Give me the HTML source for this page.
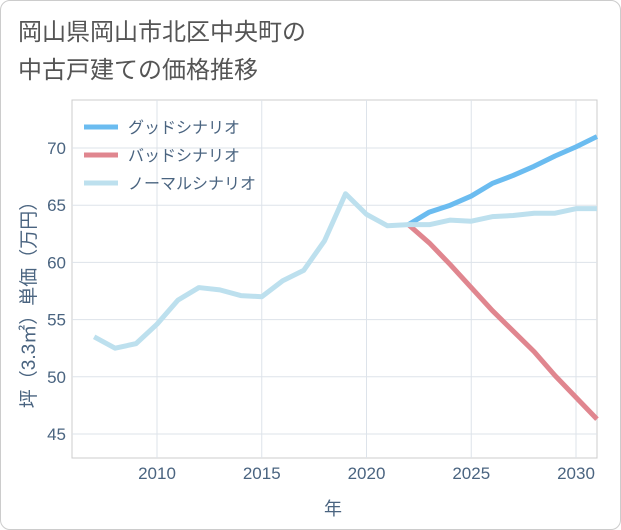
<!DOCTYPE html>
<html><head><meta charset="utf-8"><style>
body{margin:0;background:#fff;}
#wrap{position:relative;width:619px;height:528px;border:1px solid #ccc;border-radius:10px;background:#fff;overflow:hidden;font-family:"Liberation Sans","Noto Sans CJK JP",sans-serif;}
#title{position:absolute;left:17px;top:13px;font-size:24px;line-height:38px;color:#555;}
</style></head><body>
<div id="wrap">
<div id="title">岡山県岡山市北区中央町の<br>中古戸建ての価格推移</div>
<svg id="chart" width="621" height="530" style="position:absolute;left:-1px;top:-1px"></svg>
</div>
<script>
const years=[2007,2008,2009,2010,2011,2012,2013,2014,2015,2016,2017,2018,2019,2020,2021,2022,2023,2024,2025,2026,2027,2028,2029,2030,2031];
const normal=[53.5,52.5,52.9,54.6,56.7,57.8,57.6,57.1,57.0,58.4,59.3,61.9,66.0,64.2,63.2,63.3,63.3,63.7,63.6,64.0,64.1,64.3,64.3,64.7,64.7];
const goodYears=[2022,2023,2024,2025,2026,2027,2028,2029,2030,2031];
const good=[63.3,64.4,65.0,65.8,66.9,67.6,68.4,69.3,70.1,71.0];
const bad=[63.3,61.7,59.8,57.8,55.8,54.0,52.2,50.1,48.2,46.3];
const xTicks=[2010,2015,2020,2025,2030];
const yTicks=[45,50,55,60,65,70];
const legendLabels=["グッドシナリオ","バッドシナリオ","ノーマルシナリオ"];
const colors=["#6bbcf0","#e0868f","#bde0ee"];
const NS="http://www.w3.org/2000/svg";
const svg=document.getElementById('chart');
const L=72,R=597,T=100,B=458;
const x=v=>157+(v-2010)*(576-157)/20;
const y=v=>148+(70-v)*(434-148)/25;
function mk(t,a,p){const e=document.createElementNS(NS,t);for(const k in a)e.setAttribute(k,a[k]);(p||svg).appendChild(e);return e;}
const frame=mk('rect',{x:L,y:T,width:R-L,height:B-T,fill:'none',stroke:'#ccc'});


xTicks.forEach(t=>{const g=mk('line',{x1:x(t),x2:x(t),y1:T,y2:B,stroke:'#dde3ea'});


const tx=mk('text',{x:x(t),y:B+21,'text-anchor':'middle','font-size':17,fill:'#4a6480'});tx.textContent=t;

});
yTicks.forEach(t=>{const g=mk('line',{x1:L,x2:R,y1:y(t),y2:y(t),stroke:'#dde3ea'});


const tx=mk('text',{x:L-6,y:y(t)+6,'text-anchor':'end','font-size':17,fill:'#4a6480'});tx.textContent=t;

});
function line(xs,vs,c,name){const d=xs.map((v,i)=>(i?'L':'M')+x(v)+','+y(vs[i])).join('');
const p=mk('path',{d:d,fill:'none',stroke:c,'stroke-width':5,'stroke-linejoin':'round'});

}
line(goodYears,bad,colors[1],'bad-scenario-line');
line(goodYears,good,colors[0],'good-scenario-line');
line(years,normal,colors[2],'normal-scenario-line');
legendLabels.forEach((l,i)=>{const yy=127+i*28;
const ln=mk('line',{x1:84,x2:118,y1:yy,y2:yy,stroke:colors[i],'stroke-width':5});


const tx=mk('text',{x:128,y:yy+6,'font-size':16,fill:'#4a6480'});tx.textContent=l;

});
const xt=mk('text',{x:333,y:515,'text-anchor':'middle','font-size':18,fill:'#4a6480'});xt.textContent='年';


const yt=mk('text',{x:0,y:0,'text-anchor':'middle','font-size':19,fill:'#4a6480',transform:'translate(35,300) rotate(-90)'});yt.textContent='坪（3.3㎡）単価（万円）';


</script>
</body></html>
